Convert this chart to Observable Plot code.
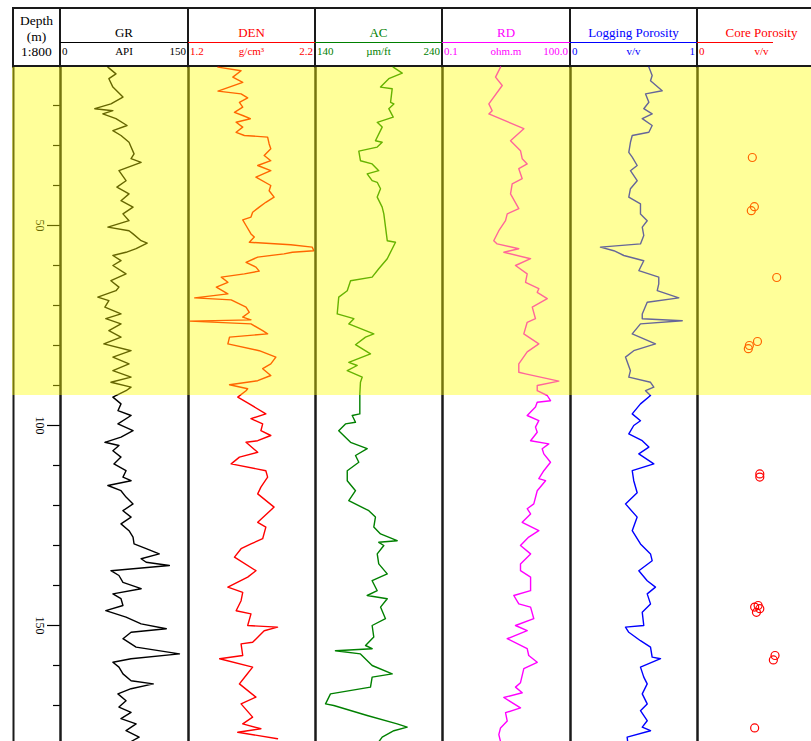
<!DOCTYPE html>
<html><head><meta charset="utf-8">
<script src="https://cdn.jsdelivr.net/npm/d3@7"></script>
<script src="https://cdn.jsdelivr.net/npm/@observablehq/plot@0.6"></script>
<style>
html,body{margin:0;padding:0;background:#fff;overflow:hidden;}
#chart{position:relative;width:811px;height:741px;overflow:hidden;font-family:"Liberation Serif","Times New Roman",serif;}
#chart svg{position:absolute;}
</style></head><body><div id="chart"></div>
<script>
// ---------- data ----------
const trackNames = ["GR", "DEN", "AC", "RD", "Logging Porosity", "Core Porosity"];
const trackUnits = ["API", "g/cm³", "µm/ft", "ohm.m", "v/v", "v/v"];
const trackMinLabels = ["0", "1.2", "140", "0.1", "0", "0"];
const trackMaxLabels = ["150", "2.2", "240", "100.0", "1", ""];
const trackDomains = [[0, 150], [1.2, 2.2], [140, 240], [0.1, 100], [0, 1], [0, 1]];
const trackScaleTypes = ["linear", "linear", "linear", "log", "linear", "linear"];
const trackColors = ["#000000", "#ff0000", "#008000", "#ff00ff", "#0000ff", "#ff0000"];
const depthHeader = ["Depth", "(m)", "1:800"];
const depthDomain = [10.5, 179];
const depthTicks = [20, 30, 40, 50, 60, 70, 80, 90, 100, 110, 120, 130, 140, 150, 160, 170];
const depthLabels = [50, 100, 150];
const zoneTop = [10.5];
const zoneBase = [92.5];

// [depth m, value]
const GR = [[10.4,55.5],[12.1,65.0],[13.3,56.7],[15.4,61.4],[17.9,73.2],[19.6,59.1],[20.8,40.2],[21.3,61.4],[22.1,49.6],[23.3,65.0],[25.0,78.0],[26.3,61.4],[27.5,70.9],[29.2,80.3],[30.4,82.7],[32.1,86.2],[33.3,82.7],[34.2,94.5],[36.3,68.5],[38.8,76.8],[40.4,66.1],[42.1,80.3],[43.8,70.9],[45.4,85.0],[47.1,73.2],[48.8,80.3],[50.4,55.5],[51.3,80.3],[52.1,85.0],[53.8,94.5],[54.4,101.6],[55.8,88.6],[56.7,76.8],[57.5,61.4],[58.8,70.9],[60.0,61.4],[62.1,76.8],[63.8,59.1],[65.4,68.5],[66.3,65.0],[67.9,43.7],[68.8,56.7],[70.4,52.0],[72.1,70.9],[73.3,53.1],[74.6,70.9],[76.3,56.7],[77.9,70.9],[79.6,50.8],[81.3,82.7],[82.9,61.4],[84.6,80.3],[86.3,61.4],[87.9,82.7],[89.2,59.1],[90.4,82.7],[91.3,76.8],[92.9,61.4],[94.6,70.9],[96.3,67.3],[97.5,82.7],[99.6,67.3],[101.3,85.0],[102.9,70.9],[104.2,52.0],[105.0,68.5],[106.3,61.4],[107.9,70.9],[109.6,62.6],[111.3,76.8],[112.9,73.2],[113.8,82.7],[115.0,55.5],[116.3,70.9],[117.9,76.8],[119.6,85.0],[121.3,73.2],[122.9,82.7],[124.6,70.9],[126.3,80.3],[127.9,85.0],[129.6,86.2],[130.8,100.4],[132.1,115.7],[133.3,94.5],[134.2,100.4],[135.0,127.6],[136.3,59.1],[137.5,68.5],[139.2,73.2],[140.8,94.5],[142.1,61.4],[143.3,70.9],[145.0,73.2],[146.3,53.1],[147.9,76.8],[149.6,94.5],[150.8,124.0],[151.7,82.7],[153.3,73.2],[155.4,88.6],[157.1,139.4],[158.3,82.7],[159.2,61.4],[160.4,68.5],[162.1,73.2],[163.8,82.7],[164.6,108.7],[165.8,82.7],[167.1,67.3],[168.8,76.8],[170.4,68.5],[171.7,82.7],[173.3,70.9],[174.6,88.6],[176.3,76.8],[177.9,92.1],[179.0,82.7]];

const DEN = [[10.4,1.432],[11.3,1.614],[12.9,1.549],[14.2,1.627],[16.4,1.432],[17.1,1.614],[18.1,1.666],[19.2,1.601],[20.4,1.627],[21.7,1.562],[22.5,1.627],[23.3,1.687],[24.2,1.575],[25.4,1.627],[26.7,1.575],[27.5,1.64],[27.9,1.823],[29.6,1.835],[30.8,1.848],[32.5,1.796],[33.8,1.848],[35.0,1.745],[36.3,1.848],[37.9,1.731],[40.0,1.848],[41.3,1.835],[42.9,1.874],[44.2,1.809],[45.4,1.757],[46.7,1.705],[47.9,1.692],[48.6,1.627],[50.0,1.653],[52.1,1.692],[52.9,1.718],[54.2,1.679],[54.8,2.005],[55.4,2.174],[56.3,2.187],[56.7,2.018],[57.1,1.952],[57.9,1.745],[59.2,1.653],[60.4,1.731],[61.4,1.757],[62.1,1.64],[62.9,1.458],[64.2,1.51],[65.4,1.419],[67.1,1.51],[68.1,1.249],[68.6,1.536],[70.4,1.653],[71.7,1.679],[72.9,1.627],[73.6,1.692],[73.9,1.21],[74.6,1.692],[76.3,1.784],[77.1,1.823],[77.9,1.523],[79.6,1.51],[81.3,1.757],[82.9,1.888],[84.6,1.848],[85.8,1.784],[87.5,1.848],[88.8,1.745],[89.8,1.523],[90.8,1.666],[91.3,1.653],[92.9,1.588],[94.6,1.679],[97.1,1.809],[98.3,1.692],[99.6,1.784],[101.3,1.77],[102.5,1.848],[103.8,1.745],[104.2,1.653],[106.7,1.745],[107.9,1.601],[109.6,1.536],[111.3,1.809],[112.9,1.823],[115.4,1.77],[117.1,1.745],[120.4,1.874],[124.2,1.745],[125.4,1.809],[128.3,1.784],[129.6,1.692],[130.8,1.614],[132.9,1.562],[136.3,1.731],[137.9,1.666],[140.4,1.51],[141.7,1.627],[143.8,1.614],[146.3,1.575],[147.1,1.692],[150.0,1.666],[150.4,1.901],[151.3,1.796],[154.2,1.705],[154.6,1.614],[157.5,1.627],[158.3,1.445],[160.4,1.705],[162.5,1.653],[164.6,1.601],[167.9,1.731],[169.6,1.614],[172.9,1.705],[174.6,1.627],[175.8,1.77],[176.7,1.588],[178.3,1.901]];

const AC = [[10.4,201.2],[11.9,208.3],[13.3,197.7],[15.4,191.2],[15.8,200.4],[19.2,199.1],[19.6,201.7],[20.8,197.7],[22.9,201.2],[24.2,188.6],[25.4,192.5],[28.8,187.2],[29.2,192.5],[30.4,188.6],[31.4,174.1],[33.8,175.4],[34.6,184.6],[36.3,189.8],[37.1,180.7],[38.8,184.6],[39.2,188.6],[40.8,191.2],[42.9,188.6],[45.4,192.5],[47.1,193.8],[53.8,196.5],[54.2,203.0],[58.3,196.5],[60.8,189.8],[62.9,184.6],[63.8,167.6],[66.3,165.0],[67.9,158.3],[72.1,157.1],[73.3,170.2],[74.6,166.2],[77.1,185.9],[77.9,179.4],[79.8,171.5],[82.1,183.3],[84.2,166.2],[85.0,172.8],[86.3,165.0],[87.9,176.8],[89.2,175.4],[92.1,174.9],[97.1,174.9],[97.5,168.9],[99.2,171.5],[99.6,163.6],[101.3,158.3],[104.2,167.6],[105.8,180.7],[107.5,171.5],[109.2,174.1],[111.3,165.0],[113.8,165.0],[116.3,171.5],[118.8,166.2],[121.3,182.0],[122.9,187.2],[125.4,185.9],[127.1,191.2],[128.8,204.3],[129.2,189.8],[130.0,193.8],[132.1,188.6],[134.6,189.8],[137.1,196.5],[138.8,184.6],[141.3,188.6],[142.5,180.7],[143.3,196.5],[145.4,191.2],[148.3,195.1],[150.0,184.6],[152.9,185.9],[155.0,179.4],[155.8,184.6],[156.3,155.7],[157.1,175.4],[160.0,184.6],[162.1,200.4],[162.9,184.6],[165.4,183.3],[167.1,151.8],[169.6,147.9],[170.0,154.4],[172.5,180.7],[174.6,204.3],[175.4,212.2],[176.3,201.7],[177.9,192.5],[179.0,190.0]];

const RD = [[10.4,2.29],[12.9,1.75],[15.0,2.51],[19.6,1.22],[21.3,1.46],[22.1,1.22],[25.8,8.05],[28.8,3.93],[31.3,6.73],[33.3,7.38],[34.6,9.66],[35.8,6.14],[38.3,7.38],[39.6,4.30],[42.1,3.93],[45.8,6.14],[47.1,3.29],[48.8,3.0],[51.3,2.09],[53.8,1.59],[54.6,1.91],[55.8,6.14],[56.7,2.74],[58.3,11.6],[60.0,5.14],[62.1,9.66],[64.2,8.83],[65.8,18.1],[66.7,16.6],[68.3,28.5],[70.4,12.7],[73.3,15.1],[74.2,9.66],[77.1,8.05],[79.6,18.1],[81.6,9.66],[84.6,6.14],[86.7,6.14],[87.1,8.83],[88.9,53.2],[90.0,16.6],[91.3,16.6],[92.5,28.5],[93.8,34],[94.2,16.6],[95.4,15.1],[97.5,9.66],[98.8,18.1],[100.4,15.1],[101.7,16.6],[103.8,11.6],[104.6,31],[105.8,21.7],[107.1,23.7],[109.2,34],[111.3,23.7],[113.3,18.1],[113.8,26],[116.3,16.6],[119.6,13.8],[120.8,9.66],[122.1,11.6],[124.2,7.38],[126.3,18.1],[127.9,10.5],[130.0,6.73],[132.1,11.6],[134.6,6.73],[136.3,6.73],[137.9,11.6],[141.3,11.6],[142.5,4.69],[144.6,6.14],[145.4,11.6],[148.3,13.8],[150.0,5.14],[151.3,9.66],[153.3,3.29],[155.8,9.66],[157.5,10.5],[159.2,16.6],[160.8,8.05],[164.3,6.73],[165.4,5.14],[166.8,7.38],[168.0,2.74],[170.6,6.73],[171.8,3.0],[173.9,3.29],[175.6,2.29],[177.3,2.09],[179.0,2.29]];

const LPOR = [[10.4,0.617],[12.5,0.643],[13.8,0.63],[16.3,0.722],[17.1,0.591],[19.2,0.617],[20.8,0.577],[22.1,0.643],[23.3,0.565],[25.0,0.643],[26.7,0.617],[27.5,0.486],[29.2,0.472],[31.7,0.459],[32.9,0.486],[35.0,0.525],[36.3,0.472],[38.8,0.525],[40.8,0.472],[42.9,0.459],[44.6,0.551],[47.1,0.551],[48.8,0.604],[50.4,0.565],[52.5,0.577],[54.6,0.551],[55.4,0.236],[56.3,0.341],[57.5,0.42],[58.8,0.577],[61.3,0.538],[62.9,0.695],[64.6,0.695],[66.3,0.683],[68.1,0.853],[69.2,0.604],[72.1,0.565],[73.3,0.565],[73.8,0.88],[74.6,0.551],[77.1,0.486],[79.6,0.669],[81.3,0.498],[82.9,0.433],[86.3,0.472],[87.9,0.459],[89.2,0.63],[90.4,0.656],[91.3,0.591],[92.5,0.63],[94.6,0.551],[97.1,0.486],[98.8,0.551],[100.0,0.498],[102.1,0.459],[103.8,0.565],[105.4,0.617],[107.1,0.538],[109.6,0.656],[111.3,0.486],[113.8,0.498],[116.8,0.525],[119.6,0.433],[122.9,0.525],[126.3,0.486],[129.6,0.551],[132.1,0.63],[133.8,0.643],[136.3,0.538],[138.8,0.604],[140.4,0.669],[142.1,0.604],[144.6,0.63],[146.7,0.565],[150.0,0.577],[150.4,0.433],[151.7,0.459],[153.8,0.551],[155.4,0.63],[157.9,0.643],[158.3,0.709],[160.4,0.551],[162.9,0.577],[164.6,0.604],[167.1,0.565],[169.6,0.604],[171.3,0.551],[173.8,0.604],[175.4,0.565],[176.3,0.63],[177.9,0.446],[179.0,0.45]];

const CORE = [[33.0,0.425],[45.3,0.441],[46.3,0.417],[63.0,0.614],[79.0,0.465],[80.0,0.402],[80.8,0.394],[112.1,0.483],[112.9,0.483],[145.0,0.47],[145.4,0.443],[145.8,0.483],[146.7,0.457],[157.5,0.601],[158.6,0.588],[175.6,0.443]];

const trackData = [GR, DEN, AC, RD, LPOR, CORE];

// ---------- layout ----------
const bounds = [13, 60, 188, 315, 442, 570, 697, 826];
const bodyTop = 67, bodyHeight = 674;
const serif = "Liberation Serif, Times New Roman, serif";
const border = "#1a1a1a";
const chart = d3.select("#chart");

// header
const hdr = chart.append("svg").attr("width", 811).attr("height", 68)
  .style("left", "0px").style("top", "0px").style("font-family", serif);
hdr.append("line").attr("x1", 12).attr("x2", 811).attr("y1", 8).attr("y2", 8).attr("stroke", border).attr("stroke-width", 2);
hdr.append("line").attr("x1", 12).attr("x2", 811).attr("y1", 66).attr("y2", 66).attr("stroke", border).attr("stroke-width", 2);
bounds.forEach(b => hdr.append("line").attr("x1", b).attr("x2", b).attr("y1", 7).attr("y2", 68).attr("stroke", border).attr("stroke-width", 2));
depthHeader.forEach((t, i) => hdr.append("text").attr("x", (bounds[0] + bounds[1]) / 2).attr("y", 25 + i * 15.5)
  .attr("text-anchor", "middle").attr("fill", "#000").style("font-size", "13.5px").text(t));
trackNames.forEach((name, i) => {
  const x0 = bounds[i + 1], x1 = bounds[i + 2], cx = (x0 + x1) / 2, col = trackColors[i];
  hdr.append("text").attr("x", cx).attr("y", 37).attr("text-anchor", "middle").attr("fill", col).style("font-size", "13px").text(name);
  hdr.append("line").attr("x1", x0).attr("x2", i === 5 ? x0 + 76 : x1).attr("y1", 42.5).attr("y2", 42.5).attr("stroke", col).attr("stroke-width", 1.2);
  hdr.append("text").attr("x", x0 + 2).attr("y", 54.5).attr("fill", col).style("font-size", "11px").text(trackMinLabels[i]);
  hdr.append("text").attr("x", cx).attr("y", 54.5).attr("text-anchor", "middle").attr("fill", col).style("font-size", "11px").text(trackUnits[i]);
  if (trackMaxLabels[i]) hdr.append("text").attr("x", x1 - 2).attr("y", 54.5).attr("text-anchor", "end").attr("fill", col).style("font-size", "11px").text(trackMaxLabels[i]);
});

function place(svg, left) {
  svg.style.position = "absolute";
  svg.style.left = left + "px";
  svg.style.top = bodyTop + "px";
  document.getElementById("chart").appendChild(svg);
}
const baseStyle = {background: "transparent", overflow: "visible", maxWidth: "none"};
const yScale = {domain: depthDomain, reverse: true, axis: null};

// depth track
const dw = bounds[1] - bounds[0];
place(Plot.plot({
  width: dw, height: bodyHeight, margin: 0, style: baseStyle,
  x: {domain: [0, dw], axis: null}, y: yScale,
  marks: [
    Plot.ruleY(depthTicks.filter(d => !depthLabels.includes(d)), {y: d => d, x1: dw - 7, x2: dw, stroke: "#000", strokeWidth: 1.2}),
    Plot.ruleY(depthLabels, {y: d => d, x1: dw - 13, x2: dw, stroke: "#000", strokeWidth: 1.2}),
    Plot.text(depthLabels, {y: d => d, x: dw - 21, text: d => String(d), rotate: 90, fontSize: 12, fontFamily: serif, fill: "#000"}),
    Plot.ruleX([0, dw], {stroke: border, strokeWidth: 2})
  ]
}), bounds[0]);

// data tracks
trackData.forEach((data, i) => {
  const w = bounds[i + 2] - bounds[i + 1];
  const dom = trackDomains[i];
  const marks = [];
  if (i === 5) {
    marks.push(Plot.dot(data, {x: d => d[1], y: d => d[0], r: 4, stroke: trackColors[i], strokeWidth: 1.2, fill: "none"}));
  } else {
    marks.push(Plot.line(data, {x: d => d[1], y: d => d[0], stroke: trackColors[i], strokeWidth: 1.4}));
  }
  marks.push(Plot.ruleX(dom, {stroke: border, strokeWidth: 2}));
  place(Plot.plot({
    width: w, height: bodyHeight, margin: 0, style: baseStyle,
    x: {type: trackScaleTypes[i], domain: dom, axis: null}, y: yScale,
    marks
  }), bounds[i + 1]);
});

// yellow zone overlay
place(Plot.plot({
  width: 812, height: bodyHeight, margin: 0, style: baseStyle,
  y: yScale,
  marks: [Plot.rect(zoneTop.map((t, k) => [t, zoneBase[k]]), {y1: d => d[0], y2: d => d[1], fill: "#ffff00", fillOpacity: 0.4})]
}), 12);
</script></body></html>
